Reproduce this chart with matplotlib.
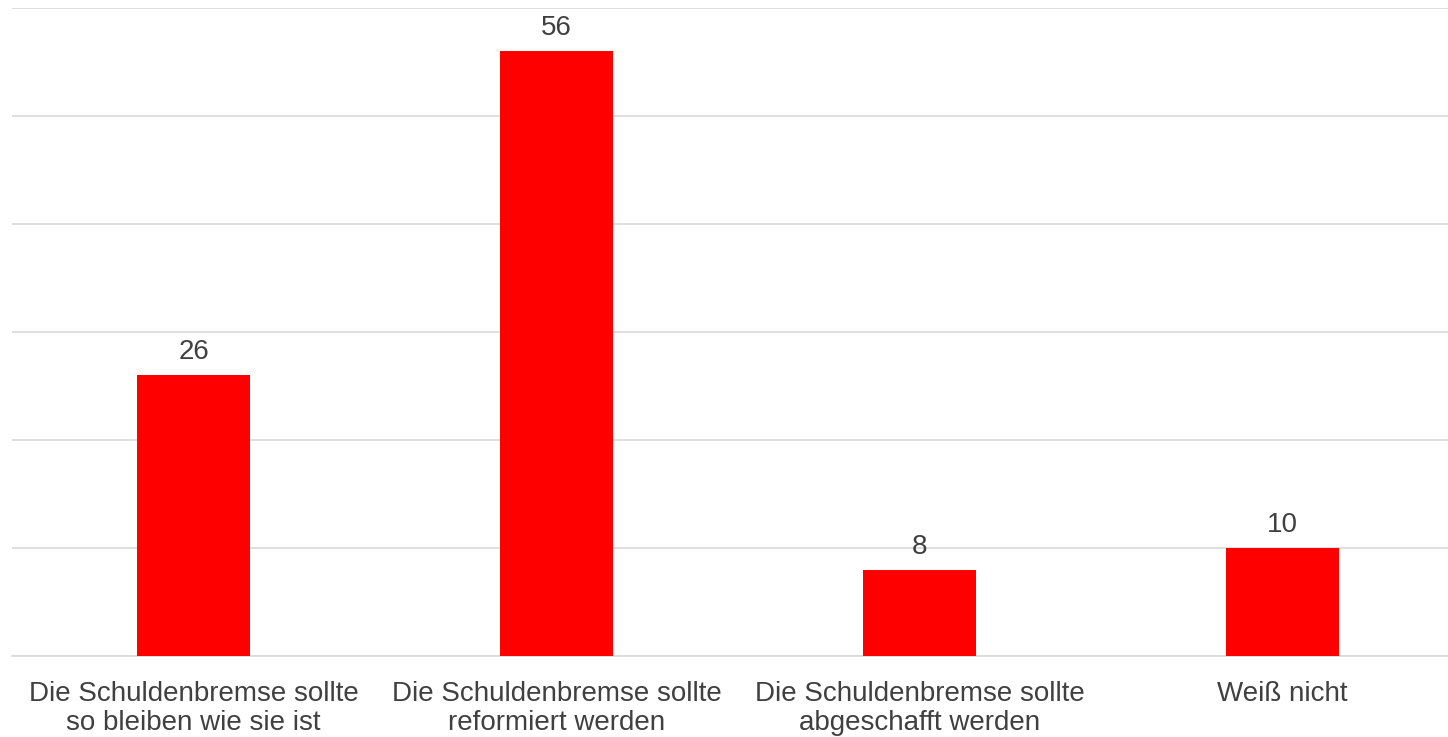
import matplotlib.pyplot as plt

categories = ["Die Schuldenbremse sollte\nso bleiben wie sie ist",
              "Die Schuldenbremse sollte\nreformiert werden",
              "Die Schuldenbremse sollte\nabgeschafft werden",
              "Weiß nicht"]
values = [26, 56, 8, 10]

plt.rcParams['font.family'] = ['Liberation Sans', 'DejaVu Sans']

fig = plt.figure(figsize=(14.48, 7.37), dpi=100)
ax = fig.add_axes([12 / 1448, 81 / 737, 1452 / 1448, 648 / 737])

x = range(len(values))
bars = ax.bar(x, values, width=0.31, color='#ff0000', zorder=3)
for b, v in zip(bars, values):
    ax.text(b.get_x() + b.get_width() / 2, v + 0.9, str(v), ha='center', va='bottom',
            fontsize=20, color='#404040')

ax.set_xlim(-0.5, 3.5)
ax.set_ylim(0, 60)
ax.set_yticks(range(0, 61, 10))
ax.yaxis.grid(True, color='#d9d9d9', linewidth=1.2, zorder=0)
ax.tick_params(axis='y', left=False, labelleft=False)
ax.tick_params(axis='x', length=0, pad=18)
ax.set_xticks(list(x))
ax.set_xticklabels(categories, fontsize=20, color='#404040', linespacing=1.15)
for s in ['top', 'right', 'left']:
    ax.spines[s].set_visible(False)
ax.spines['bottom'].set_color('#d9d9d9')
ax.spines['bottom'].set_linewidth(1.2)

fig.savefig('out.png', dpi=100)
